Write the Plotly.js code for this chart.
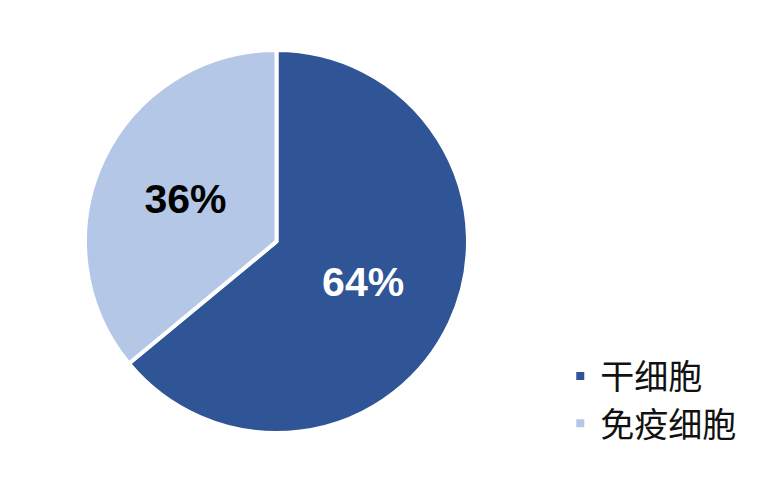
<!DOCTYPE html>
<html>
<head>
<meta charset="utf-8">
<script src="https://cdn.plot.ly/plotly-3.0.1.min.js"></script>
<style>
  html, body { margin: 0; padding: 0; background: #fff; }
  #chart { width: 776px; height: 484px; }
</style>
</head>
<body>
<div id="chart"></div>
<script>
const categorias = ['干细胞', '免疫细胞'];
const valores = [64, 36];
const colores = ['#2F5597', '#B4C7E7'];
const coloresTexto = ['#ffffff', '#000000'];

const trazaPie = {
  type: 'pie',
  labels: categorias,
  values: valores,
  sort: false,
  direction: 'clockwise',
  rotation: 0,
  marker: { colors: colores, line: { color: '#ffffff', width: 4 } },
  texttemplate: '%{percent:.0%}',
  textposition: 'inside',
  insidetextorientation: 'horizontal',
  insidetextfont: { family: 'Liberation Sans, Arial, sans-serif', size: 41, weight: 'bold', color: coloresTexto },
  hoverinfo: 'none',
  domain: { x: [0.1095, 0.6031], y: [0.1054, 0.8967] }
};

const layout = {
  width: 776,
  height: 484,
  margin: { l: 0, r: 0, t: 0, b: 0 },
  paper_bgcolor: '#ffffff',
  showlegend: true,
  legend: {
    x: 0.722,
    y: 0.282,
    xanchor: 'left',
    yanchor: 'top',
    font: { family: 'Noto Sans CJK SC, sans-serif', size: 34, color: '#111111' },
    bgcolor: 'rgba(0,0,0,0)'
  }
};

Plotly.newPlot('chart', [trazaPie], layout, { displayModeBar: false, staticPlot: true });
</script>
</body>
</html>
